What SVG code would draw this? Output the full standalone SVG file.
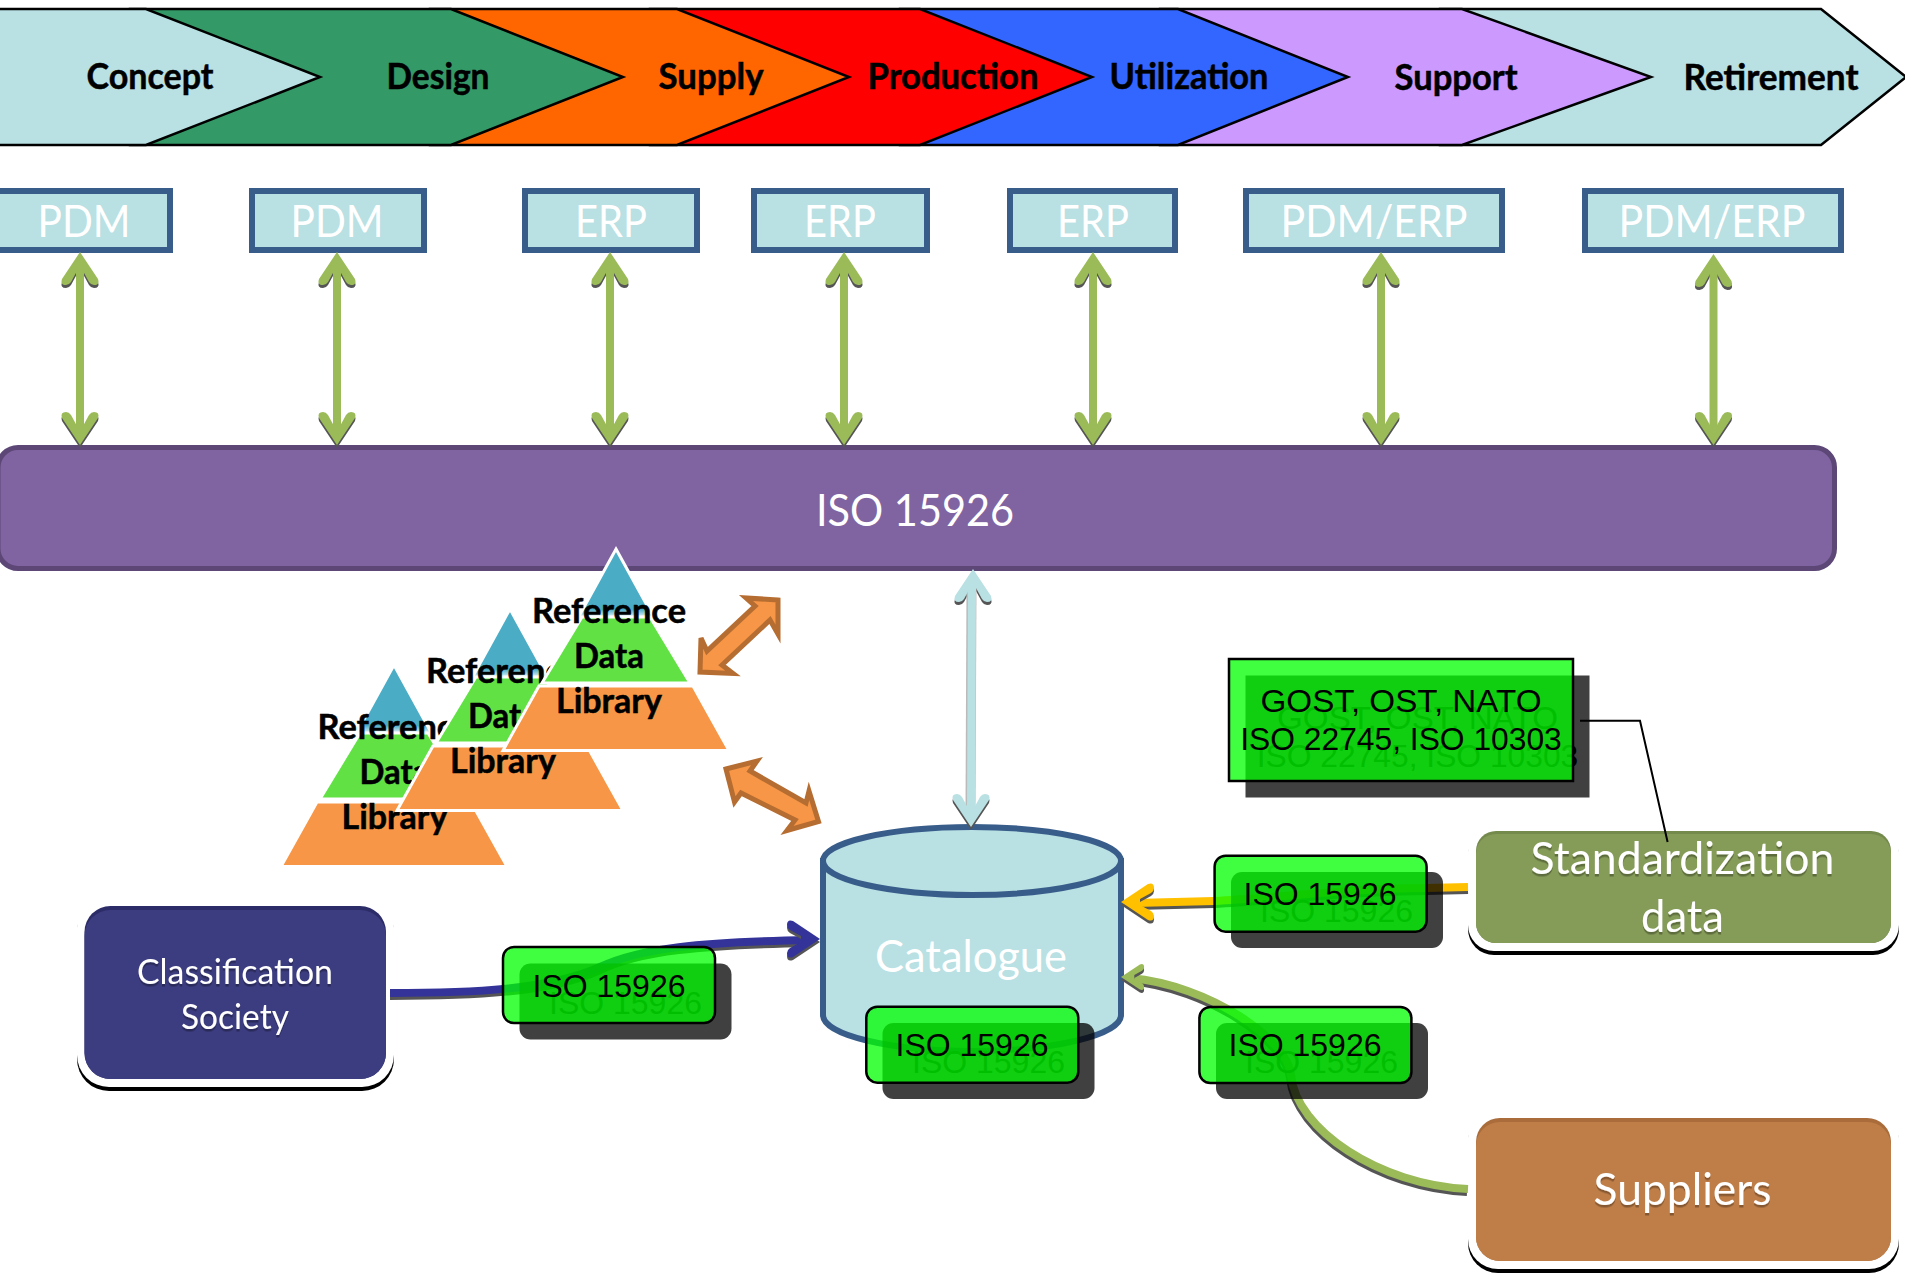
<svg xmlns="http://www.w3.org/2000/svg" width="1905" height="1273" viewBox="0 0 1905 1273">
<style>
text{font-family:Lato,"Open Sans",sans-serif;text-anchor:middle}
.chev{stroke:#000;stroke-width:2.5;stroke-linejoin:miter}
.ct{font-weight:700;font-size:36px;fill:#000;stroke:#000;stroke-width:.5}
.sys rect{fill:#b9e0e3;stroke:#385d8a;stroke-width:6}
.wt{fill:#fff;font-size:44px}
.pt{font-weight:700;font-size:35px;fill:#000;stroke:#000;stroke-width:.5}
.oa{fill:#f79646;stroke:#b66d31;stroke-width:5;stroke-linejoin:miter}
.shd{fill:#000;opacity:.75}
.tagb{fill:#0f0;opacity:.75}
.tago{fill:none;stroke:#000;stroke-width:2.5}
.tt{font-family:"Liberation Sans",Arial,sans-serif;font-size:32px;fill:#000}
.hg{fill:#9bbb59}.hs{fill:#555}.hy{fill:#ffc000}.hb{fill:#333399}.hl{fill:#b9e0e3}
.ln{fill:none;stroke-width:8}
.g{stroke:#9bbb59}.s{stroke:#555}.y{stroke:#ffc000}.b{stroke:#333399}.l{stroke:#b9e0e3}
</style>
<defs>
<linearGradient id="bl" x1="0" y1="547" x2="0" y2="618" gradientUnits="userSpaceOnUse"><stop offset="0" stop-color="#4bacc6"/><stop offset=".88" stop-color="#4bacc6"/><stop offset="1" stop-color="#fff"/></linearGradient>
<filter id="ts" x="-10%" y="-10%" width="120%" height="130%"><feDropShadow dx="0" dy="2.5" stdDeviation="0.6" flood-color="#000" flood-opacity=".3"/></filter>
<path id="head" d="M0,0L18,27Q20,33 14,33Q11,33 9,30L3,19H-3L-9,30Q-11,33 -14,33Q-20,33 -18,27Z"/>
<g id="pyr">
<path d="M616,549L654,618H578Z" fill="url(#bl)" stroke="#fff" stroke-width="3"/>
<path d="M582,617H650L690,683H542Z" fill="#62e145" stroke="#fff" stroke-width="3"/>
<path d="M539,686H693L729,750.500H503Z" fill="#f79646" stroke="#fff" stroke-width="3"/>
</g>
</defs>

<g id="chevrons">
<path id="retirement" class="chev" d="M1440,9H1821L1906,77L1821,145H1440Z" fill="#b9e0e3"/>
<path id="support" class="chev" d="M1160,9H1462L1651,77L1462,145H1160Z" fill="#cc99ff"/>
<path id="utilization" class="chev" d="M900,9H1178L1348,77L1178,145H900Z" fill="#3366ff"/>
<path id="production" class="chev" d="M650,9H920L1092,77L920,145H650Z" fill="#f00"/>
<path id="supply" class="chev" d="M430,9H677L849,77L677,145H430Z" fill="#f60"/>
<path id="design" class="chev" d="M130,9H451L623,77L451,145H130Z" fill="#396"/>
<path id="concept" class="chev" d="M-5,9H146L320,77L146,145H-5Z" fill="#b9e0e3"/>
<g class="ct">
<text x="150" y="89" textLength="127" lengthAdjust="spacingAndGlyphs">Concept</text>
<text x="438" y="89" textLength="103" lengthAdjust="spacingAndGlyphs">Design</text>
<text x="711" y="89" textLength="105" lengthAdjust="spacingAndGlyphs">Supply</text>
<text x="953" y="89" textLength="171" lengthAdjust="spacingAndGlyphs">Production</text>
<text x="1189" y="89" textLength="159" lengthAdjust="spacingAndGlyphs">Utilization</text>
<text x="1456" y="90" textLength="123" lengthAdjust="spacingAndGlyphs">Support</text>
<text x="1771" y="90" textLength="175" lengthAdjust="spacingAndGlyphs">Retirement</text>
</g>
</g>

<g id="pdm1" class="sys"><rect x="-5" y="191" width="175" height="59"/><text class="wt" x="84" y="237" textLength="93" lengthAdjust="spacingAndGlyphs">PDM</text></g>
<g id="pdm2" class="sys"><rect x="252" y="191" width="172" height="59"/><text class="wt" x="337" y="237" textLength="93" lengthAdjust="spacingAndGlyphs">PDM</text></g>
<g id="erp1" class="sys"><rect x="525" y="191" width="172" height="59"/><text class="wt" x="611" y="237" textLength="72" lengthAdjust="spacingAndGlyphs">ERP</text></g>
<g id="erp2" class="sys"><rect x="754" y="191" width="173" height="59"/><text class="wt" x="840" y="237" textLength="72" lengthAdjust="spacingAndGlyphs">ERP</text></g>
<g id="erp3" class="sys"><rect x="1010" y="191" width="165" height="59"/><text class="wt" x="1093" y="237" textLength="72" lengthAdjust="spacingAndGlyphs">ERP</text></g>
<g id="pdmerp1" class="sys"><rect x="1246" y="191" width="256" height="59"/><text class="wt" x="1374" y="237" textLength="187" lengthAdjust="spacingAndGlyphs">PDM/ERP</text></g>
<g id="pdmerp2" class="sys"><rect x="1585" y="191" width="256" height="59"/><text class="wt" x="1712" y="237" textLength="187" lengthAdjust="spacingAndGlyphs">PDM/ERP</text></g>

<g id="iso-bar">
<rect x="-2" y="447.500" width="1836.500" height="121" rx="20" fill="#8064a2" stroke="#5c4776" stroke-width="5"/>
<text class="wt" x="915" y="526" textLength="198" lengthAdjust="spacingAndGlyphs">ISO 15926</text>
</g>

<g id="catalogue">
<path d="M823,861V1015C823,1035 890,1051 972,1051S1121,1035 1121,1015V861Z" fill="#b9e0e3" stroke="#385d8a" stroke-width="6"/>
<ellipse cx="972" cy="861" rx="149" ry="34" fill="#b9e0e3" stroke="#385d8a" stroke-width="6"/>
<text class="wt" x="971" y="972" textLength="192" lengthAdjust="spacingAndGlyphs">Catalogue</text>
</g>

<g id="classification-society">
<rect x="77" y="900" width="317" height="191" rx="32" fill="#000"/>
<rect x="77" y="896" width="317" height="191" rx="32" fill="#fff"/>
<rect x="84.500" y="906" width="301.500" height="173" rx="26" fill="#2c2c68"/>
<path d="M84.500,936A26,26 0 0 1 110.500,910H360A26,26 0 0 1 386,936V1053A26,26 0 0 1 360,1079H110.500A26,26 0 0 1 84.500,1053Z" fill="#3c3c80"/>
<g filter="url(#ts)"><text x="235" y="984" fill="#fff" font-size="34" textLength="196" lengthAdjust="spacingAndGlyphs">Classification</text>
<text x="235" y="1029" fill="#fff" font-size="34" textLength="108" lengthAdjust="spacingAndGlyphs">Society</text></g>
</g>
<g id="standardization-data">
<rect x="1468" y="830" width="431" height="125" rx="26" fill="#000"/>
<rect x="1468" y="826" width="431" height="125" rx="26" fill="#fff"/>
<rect x="1476" y="831" width="415" height="112" rx="20" fill="#748a4c"/>
<path d="M1476,854A20,20 0 0 1 1496,834H1871A20,20 0 0 1 1891,854V923A20,20 0 0 1 1871,943H1496A20,20 0 0 1 1476,923Z" fill="#859b58"/>
<g filter="url(#ts)"><text x="1682.500" y="874" fill="#fff" font-size="44" textLength="304" lengthAdjust="spacingAndGlyphs">Standardization</text>
<text x="1682.500" y="932" fill="#fff" font-size="44" textLength="83" lengthAdjust="spacingAndGlyphs">data</text></g>
</g>
<g id="suppliers">
<rect x="1468" y="1112" width="431" height="161" rx="30" fill="#000"/>
<rect x="1468" y="1108" width="431" height="161" rx="30" fill="#fff"/>
<rect x="1476" y="1118" width="415" height="143" rx="24" fill="#a96c3a"/>
<path d="M1476,1146A24,24 0 0 1 1500,1122H1867A24,24 0 0 1 1891,1146V1237A24,24 0 0 1 1867,1261H1500A24,24 0 0 1 1476,1237Z" fill="#bf7e48"/>
<g filter="url(#ts)"><text x="1682.500" y="1205" fill="#fff" font-size="44" textLength="178" lengthAdjust="spacingAndGlyphs">Suppliers</text></g>
</g>

<g id="connectors">
<g class="hs">
<use href="#head" transform="translate(80,255)"/><use href="#head" transform="translate(80,448) scale(1,-1)"/>
<use href="#head" transform="translate(337,255)"/><use href="#head" transform="translate(337,448) scale(1,-1)"/>
<use href="#head" transform="translate(610,255)"/><use href="#head" transform="translate(610,448) scale(1,-1)"/>
<use href="#head" transform="translate(844,255)"/><use href="#head" transform="translate(844,448) scale(1,-1)"/>
<use href="#head" transform="translate(1093,255)"/><use href="#head" transform="translate(1093,448) scale(1,-1)"/>
<use href="#head" transform="translate(1381,255)"/><use href="#head" transform="translate(1381,448) scale(1,-1)"/>
<use href="#head" transform="translate(1713.500,257)"/><use href="#head" transform="translate(1713.500,448) scale(1,-1)"/>
</g>
<path class="ln g" d="M80,270V428M337,270V428M610,270V428M844,270V428M1093,270V428M1381,270V428M1713.500,272V428"/>
<g class="hg">
<use href="#head" transform="translate(80,252)"/><use href="#head" transform="translate(80,445) scale(1,-1)"/>
<use href="#head" transform="translate(337,252)"/><use href="#head" transform="translate(337,445) scale(1,-1)"/>
<use href="#head" transform="translate(610,252)"/><use href="#head" transform="translate(610,445) scale(1,-1)"/>
<use href="#head" transform="translate(844,252)"/><use href="#head" transform="translate(844,445) scale(1,-1)"/>
<use href="#head" transform="translate(1093,252)"/><use href="#head" transform="translate(1093,445) scale(1,-1)"/>
<use href="#head" transform="translate(1381,252)"/><use href="#head" transform="translate(1381,445) scale(1,-1)"/>
<use href="#head" transform="translate(1713.500,254)"/><use href="#head" transform="translate(1713.500,445) scale(1,-1)"/>
</g>

<use href="#head" class="hs" transform="translate(973,572)"/>
<use href="#head" class="hs" transform="translate(971,830) scale(1,-1)"/>
<path d="M971.500,585L970.500,810" fill="none" stroke="#bbb" stroke-width="10"/>
<path class="ln l" d="M972,585L971,810"/>
<use href="#head" class="hl" transform="translate(973,569)"/>
<use href="#head" class="hl" transform="translate(971,827) scale(1,-1)"/>

<path class="ln s" transform="translate(0,3)" d="M390,993C470,993 550,990 600,967C640,948 700,942 810,940"/>
<path class="ln b" d="M390,993C470,993 550,990 600,967C640,948 700,942 810,940"/>
<use href="#head" class="hs" transform="translate(820,942) rotate(90)"/>
<use href="#head" class="hb" transform="translate(820,939) rotate(90)"/>

<path class="ln s" transform="translate(0,3)" d="M1468,887L1426,888C1350,888 1280,898 1214,901L1135,903"/>
<path class="ln y" d="M1468,887L1426,888C1350,888 1280,898 1214,901L1135,903"/>
<use href="#head" class="hs" transform="translate(1121,905) rotate(-90)"/>
<use href="#head" class="hy" transform="translate(1121,902) rotate(-90)"/>

<path class="ln s" stroke-width="7" transform="translate(-1,3)" d="M1468,1189C1380,1185 1296,1130 1291,1075C1288,1040 1210,985 1130,978"/>
<path class="ln g" stroke-width="7" d="M1468,1189C1380,1185 1296,1130 1291,1075C1288,1040 1210,985 1130,978"/>
<use href="#head" class="hs" transform="translate(1121,980) rotate(-90) scale(.7)"/>
<use href="#head" class="hg" transform="translate(1121,977) rotate(-90) scale(.7)"/>

<path d="M1580,720.700H1640L1667.600,842" fill="none" stroke="#000" stroke-width="2"/>

<polygon class="oa" points="778,600 746,598 755,606 707,651 701,638 700,672 733,673.500 722,665 770,620 778,634"/>
<polygon class="oa" points="726,769 757,761 750,771 806,803 809,791 818.500,821.500 787,830.500 795,820 741,793 734.500,802"/>
</g>

<g id="pyramid1">
<use href="#pyr" transform="translate(-222,116)"/>
<text class="pt" x="394.500" y="739" textLength="154" lengthAdjust="spacingAndGlyphs">Reference</text>
<text class="pt" x="394.500" y="784" textLength="70" lengthAdjust="spacingAndGlyphs">Data</text>
<text class="pt" x="394.500" y="829" textLength="106" lengthAdjust="spacingAndGlyphs">Library</text>
</g>
<g id="pyramid2">
<use href="#pyr" transform="translate(-106,60)"/>
<text class="pt" x="503" y="683" textLength="154" lengthAdjust="spacingAndGlyphs">Reference</text>
<text class="pt" x="503" y="728" textLength="70" lengthAdjust="spacingAndGlyphs">Data</text>
<text class="pt" x="503" y="773" textLength="106" lengthAdjust="spacingAndGlyphs">Library</text>
</g>
<g id="pyramid3">
<use href="#pyr"/>
<text class="pt" x="609" y="623" textLength="154" lengthAdjust="spacingAndGlyphs">Reference</text>
<text class="pt" x="609" y="668" textLength="70" lengthAdjust="spacingAndGlyphs">Data</text>
<text class="pt" x="609" y="713" textLength="106" lengthAdjust="spacingAndGlyphs">Library</text>
</g>

<g id="tag-classification">
<rect class="shd" x="519.500" y="963.500" width="212" height="76" rx="11"/>
<text class="tt" x="625.500" y="1013.500">ISO 15926</text>
<rect class="tagb" x="503" y="947" width="212" height="76" rx="11"/>
<rect class="tago" x="503" y="947" width="212" height="76" rx="11"/>
<text class="tt" x="609" y="997">ISO 15926</text>
</g>
<g id="tag-catalogue">
<rect class="shd" x="882.500" y="1023" width="212" height="76" rx="11"/>
<text class="tt" x="988.500" y="1072.500">ISO 15926</text>
<rect class="tagb" x="866.300" y="1006.700" width="212" height="76" rx="11"/>
<rect class="tago" x="866.300" y="1006.700" width="212" height="76" rx="11"/>
<text class="tt" x="972" y="1056">ISO 15926</text>
</g>
<g id="tag-standardization">
<rect class="shd" x="1231" y="872" width="212" height="76" rx="11"/>
<text class="tt" x="1336.500" y="921.500">ISO 15926</text>
<rect class="tagb" x="1214.600" y="855.700" width="212" height="76" rx="11"/>
<rect class="tago" x="1214.600" y="855.700" width="212" height="76" rx="11"/>
<text class="tt" x="1320" y="905">ISO 15926</text>
</g>
<g id="tag-suppliers">
<rect class="shd" x="1216" y="1023" width="212" height="76" rx="11"/>
<text class="tt" x="1321.500" y="1072.500">ISO 15926</text>
<rect class="tagb" x="1199.400" y="1007" width="212" height="76" rx="11"/>
<rect class="tago" x="1199.400" y="1007" width="212" height="76" rx="11"/>
<text class="tt" x="1305" y="1056">ISO 15926</text>
</g>
<g id="tag-standards">
<rect class="shd" x="1245.500" y="675.500" width="344" height="122"/>
<text class="tt" x="1417.500" y="728.500" textLength="281" lengthAdjust="spacingAndGlyphs">GOST, OST, NATO</text>
<text class="tt" x="1417.500" y="766.500" textLength="321.500" lengthAdjust="spacingAndGlyphs">ISO 22745, ISO 10303</text>
<rect class="tagb" x="1229" y="659" width="344" height="122"/>
<rect class="tago" x="1229" y="659" width="344" height="122"/>
<text class="tt" x="1401" y="712" textLength="281" lengthAdjust="spacingAndGlyphs">GOST, OST, NATO</text>
<text class="tt" x="1401" y="750" textLength="321.500" lengthAdjust="spacingAndGlyphs">ISO 22745, ISO 10303</text>
</g>
</svg>
